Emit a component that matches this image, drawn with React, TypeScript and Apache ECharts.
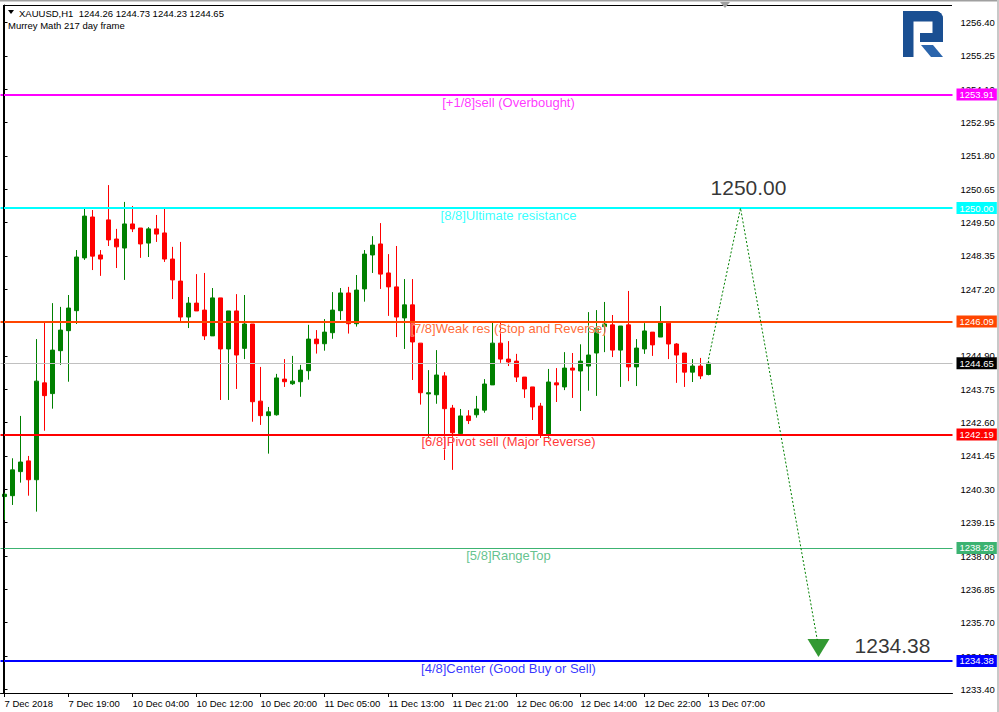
import React, { useEffect, useRef } from 'react';
import * as echarts from 'echarts';

const FONT = '"Liberation Sans", Arial, sans-serif';

// Bottom axis tick labels (one every 8 hourly candles)
const tickLabels = [
  '7 Dec 2018', '7 Dec 19:00', '10 Dec 04:00', '10 Dec 12:00', '10 Dec 20:00', '11 Dec 05:00',
  '11 Dec 13:00', '11 Dec 21:00', '12 Dec 06:00', '12 Dec 14:00', '12 Dec 22:00', '13 Dec 07:00',
];
const CATEGORY_COUNT = 119; // visible hourly slots incl. empty forecast area

// Hourly candles: [open, close, low, high]
const candles: number[][] = [
  [1240.05, 1240.13, 1239.24, 1240.18],
  [1240.08, 1240.97, 1239.76, 1241.37],
  [1240.91, 1241.24, 1240.53, 1242.83],
  [1241.28, 1240.63, 1240.08, 1241.45],
  [1240.63, 1244.03, 1239.53, 1245.48],
  [1243.97, 1243.53, 1242.32, 1246.04],
  [1243.60, 1245.10, 1243.08, 1246.72],
  [1245.08, 1245.79, 1244.59, 1246.59],
  [1245.77, 1246.55, 1244.01, 1247.00],
  [1246.46, 1248.31, 1246.00, 1248.55],
  [1248.28, 1249.72, 1248.21, 1249.97],
  [1249.69, 1248.34, 1247.86, 1249.93],
  [1248.38, 1248.24, 1247.66, 1248.55],
  [1249.59, 1248.90, 1248.69, 1250.79],
  [1248.93, 1248.66, 1247.93, 1249.28],
  [1248.62, 1249.45, 1247.52, 1250.21],
  [1249.45, 1249.28, 1249.17, 1250.07],
  [1249.31, 1248.76, 1248.28, 1249.31],
  [1248.79, 1249.28, 1248.31, 1249.34],
  [1249.28, 1249.10, 1248.83, 1249.76],
  [1249.14, 1248.24, 1248.14, 1249.97],
  [1248.24, 1247.52, 1246.86, 1248.66],
  [1247.48, 1246.24, 1246.10, 1248.83],
  [1246.24, 1246.72, 1245.86, 1246.93],
  [1246.72, 1246.45, 1246.45, 1247.72],
  [1246.48, 1245.59, 1245.45, 1247.76],
  [1245.59, 1246.90, 1245.59, 1247.24],
  [1246.90, 1245.14, 1243.38, 1246.90],
  [1245.14, 1246.45, 1243.38, 1246.45],
  [1246.45, 1244.93, 1243.76, 1247.03],
  [1245.16, 1246.00, 1244.79, 1247.00],
  [1246.00, 1243.32, 1242.63, 1246.00],
  [1243.34, 1242.84, 1242.52, 1244.52],
  [1242.84, 1242.97, 1241.53, 1243.14],
  [1242.87, 1244.14, 1242.84, 1244.28],
  [1244.10, 1244.01, 1243.83, 1244.79],
  [1243.94, 1244.03, 1243.90, 1244.90],
  [1244.01, 1244.41, 1243.49, 1244.59],
  [1244.39, 1245.48, 1244.08, 1245.97],
  [1245.48, 1245.32, 1244.98, 1245.79],
  [1245.32, 1245.72, 1245.08, 1246.17],
  [1245.70, 1246.48, 1245.49, 1247.10],
  [1246.46, 1247.07, 1246.14, 1247.24],
  [1247.07, 1246.01, 1245.67, 1247.28],
  [1246.01, 1247.17, 1245.91, 1247.69],
  [1247.21, 1248.41, 1246.77, 1248.55],
  [1248.38, 1248.72, 1247.76, 1249.03],
  [1248.76, 1247.72, 1247.21, 1249.48],
  [1247.76, 1247.28, 1246.28, 1248.41],
  [1247.28, 1246.24, 1245.55, 1248.69],
  [1246.21, 1246.66, 1245.14, 1247.55],
  [1246.66, 1245.38, 1244.07, 1247.55],
  [1245.34, 1243.63, 1243.22, 1245.34],
  [1243.59, 1243.63, 1242.08, 1244.41],
  [1243.56, 1244.24, 1243.25, 1245.10],
  [1244.21, 1243.08, 1241.31, 1244.34],
  [1243.10, 1242.25, 1240.97, 1243.21],
  [1242.22, 1242.83, 1242.17, 1243.07],
  [1242.83, 1242.67, 1242.55, 1243.03],
  [1242.87, 1243.07, 1242.77, 1243.52],
  [1243.03, 1243.93, 1242.94, 1244.10],
  [1243.90, 1245.34, 1243.90, 1246.07],
  [1245.34, 1244.79, 1244.66, 1246.07],
  [1244.79, 1244.69, 1244.55, 1245.41],
  [1244.72, 1244.17, 1244.00, 1244.97],
  [1244.17, 1243.76, 1243.45, 1244.17],
  [1243.83, 1243.14, 1242.69, 1243.83],
  [1243.17, 1242.21, 1242.07, 1243.28],
  [1242.21, 1244.00, 1242.03, 1244.45],
  [1243.97, 1243.90, 1243.31, 1244.48],
  [1243.83, 1244.48, 1243.72, 1245.03],
  [1244.48, 1244.41, 1243.45, 1245.00],
  [1244.38, 1244.72, 1243.00, 1245.30],
  [1244.55, 1244.93, 1243.70, 1246.41],
  [1245.00, 1245.86, 1243.52, 1246.48],
  [1245.91, 1246.00, 1245.03, 1246.76],
  [1245.97, 1245.10, 1244.86, 1246.31],
  [1245.10, 1245.93, 1243.83, 1245.93],
  [1245.97, 1244.52, 1244.03, 1247.14],
  [1244.52, 1245.17, 1243.86, 1245.48],
  [1245.14, 1245.76, 1244.97, 1246.03],
  [1245.72, 1245.28, 1244.90, 1245.72],
  [1245.55, 1246.07, 1245.55, 1246.62],
  [1246.03, 1245.31, 1244.79, 1246.03],
  [1245.31, 1244.93, 1243.97, 1245.34],
  [1245.00, 1244.34, 1243.83, 1245.00],
  [1244.34, 1244.55, 1244.00, 1244.79],
  [1244.55, 1244.21, 1244.10, 1244.83],
  [1244.26, 1244.65, 1244.23, 1244.73],
];

// Right price scale tick labels
const yTickValues = [
  1233.40, 1234.55, 1235.70, 1236.85, 1238.00, 1239.15, 1240.30, 1241.45, 1242.60, 1243.75, 1244.90,
  1246.05, 1247.20, 1248.35, 1249.50, 1250.65, 1251.80, 1252.95, 1254.10, 1255.25, 1256.40,
];

// Murrey Math levels
const levelValues = [1253.91, 1250.00, 1246.09, 1242.19, 1238.28, 1234.38];
const levelNames = [
  '[+1/8]sell (Overbought)',
  '[8/8]Ultimate resistance',
  '[7/8]Weak res (Stop and Reverse)',
  '[6/8]Pivot sell (Major Reverse)',
  '[5/8]RangeTop',
  '[4/8]Center (Good Buy or Sell)',
];
const levelColors = ['#ff00ff', '#00ffff', '#ff4500', '#ff0000', '#3cb371', '#0000ff'];
const levelWidths = [2, 2, 2, 2, 1, 2];
const levelLabelSlot = 63; // candle slot where level captions are centred

const currentPrice = 1244.65;
const headerOHLC = [1244.26, 1244.73, 1244.23, 1244.65];

// Forecast path: [slot, price]
const forecastPath = [[88, 1244.79], [92, 1250.0], [101.6, 1235.1]];
const forecastArrow = [101.75, 1234.83];
const forecastTexts = ['1250.00', '1234.38'];
const forecastTextPos = [[93, 1250.72], [111, 1234.9]];

const categories = Array.from({ length: CATEGORY_COUNT }, (_, i) =>
  i % 8 === 0 && i / 8 < tickLabels.length ? tickLabels[i / 8] : `h${i}`
);
const isTick = (i: number) => i % 8 === 0 && i / 8 < tickLabels.length;

export default function App() {
  const ref = useRef<HTMLDivElement>(null);
  useEffect(() => {
    if (!ref.current) return;
    const chart = echarts.init(ref.current, undefined, { renderer: 'svg' });
    const logoMain = '#1a4f92';
    const logoLeg = '#2b65ac';
    const option: any = {
      animation: false,
      backgroundColor: '#ffffff',
      grid: { left: 0.5, top: 5, width: 952, height: 688, show: false, outerBoundsMode: 'none' },
      xAxis: [
        {
          type: 'category',
          data: categories,
          boundaryGap: true,
          axisLine: { show: true, lineStyle: { color: '#000', width: 1 } },
          axisTick: { show: true, alignWithLabel: true, interval: (i: number) => isTick(i), length: 4, lineStyle: { color: '#000' } },
          axisLabel: {
            interval: (i: number) => isTick(i),
            align: 'left',
            margin: 5,
            color: '#000',
            fontSize: 9.5,
            fontFamily: FONT,
          },
          splitLine: { show: false },
        },
        { type: 'value', min: -0.5, max: CATEGORY_COUNT - 0.5, show: false },
      ],
      yAxis: {
        type: 'value',
        position: 'right',
        min: 1257.0 - 688 / 29,
        max: 1257.0,
        splitLine: { show: false },
        axisLine: { show: true, lineStyle: { color: '#000', width: 1 } },
        axisTick: { show: true, length: 3, customValues: yTickValues, lineStyle: { color: '#000' } },
        axisLabel: {
          customValues: yTickValues,
          formatter: (v: number) => v.toFixed(2),
          color: '#000',
          fontSize: 9.5,
          fontFamily: FONT,
          margin: 8,
        },
      },
      graphic: [
        { type: 'rect', z: 20, silent: true, shape: { x: 0, y: 0, width: 999, height: 1.5 }, style: { fill: '#a0a0a0' } },
        { type: 'rect', z: 20, silent: true, shape: { x: 997, y: 0, width: 2, height: 712 }, style: { fill: '#c8c8c8' } },
        { type: 'line', z: 20, silent: true, shape: { x1: 3.5, y1: 5, x2: 3.5, y2: 693 }, style: { stroke: '#000', lineWidth: 1 } },
        { type: 'line', z: 20, silent: true, shape: { x1: 3, y1: 5.5, x2: 952, y2: 5.5 }, style: { stroke: '#000', lineWidth: 1 } },
        { type: 'polygon', z: 20, silent: true, shape: { points: [[720, 2], [730, 2], [725, 8]] }, style: { fill: '#a0a0a0' } },
        { type: 'polygon', z: 20, silent: true, shape: { points: [[8, 10], [14, 10], [11, 14]] }, style: { fill: '#000' } },
        {
          type: 'text', z: 20, silent: true, x: 19, y: 13,
          style: {
            text: 'XAUUSD,H1  ' + headerOHLC.map((v) => v.toFixed(2)).join(' '),
            fontSize: 9.5, fontFamily: FONT, fill: '#000', verticalAlign: 'middle',
          },
        },
        {
          type: 'text', z: 20, silent: true, x: 8, y: 25,
          style: { text: 'Murrey Math 217 day frame', fontSize: 9.5, fontFamily: FONT, fill: '#000', verticalAlign: 'middle' },
        },
        // logo
        { type: 'rect', z: 20, silent: true, shape: { x: 903, y: 11, width: 10.5, height: 46 }, style: { fill: logoMain } },
        { type: 'rect', z: 20, silent: true, shape: { x: 903, y: 11, width: 40, height: 10.5, r: [0, 8, 0, 0] }, style: { fill: logoMain } },
        { type: 'rect', z: 20, silent: true, shape: { x: 932.5, y: 11, width: 10.5, height: 31, r: [0, 8, 0, 0] }, style: { fill: logoMain } },
        { type: 'rect', z: 20, silent: true, shape: { x: 920, y: 33, width: 23, height: 9 }, style: { fill: logoMain } },
        { type: 'polygon', z: 20, silent: true, shape: { points: [[921, 45], [933, 45], [943, 57], [931, 57]] }, style: { fill: logoLeg } },
      ],
      series: [
        {
          type: 'line',
          xAxisIndex: 1,
          data: [],
          z: 1,
          silent: true,
          markLine: {
            silent: true,
            symbol: ['none', 'none'],
            animation: false,
            lineStyle: { color: '#c0c0c0', width: 1, type: 'solid' },
            label: {
              show: true,
              position: 'end',
              distance: 4,
              formatter: () => currentPrice.toFixed(2),
              color: '#fff',
              backgroundColor: '#000',
              padding: [1, 3],
              fontSize: 9.5,
              fontFamily: FONT,
            },
            data: [{ yAxis: currentPrice }],
          },
        },
        {
          type: 'candlestick',
          data: candles,
          barWidth: 4,
          z: 2,
          silent: true,
          itemStyle: {
            color: '#008000',
            color0: '#ff0000',
            borderColor: '#008000',
            borderColor0: '#ff0000',
            borderColorDoji: '#008000',
            borderWidth: 1,
          },
        },
        {
          type: 'line',
          xAxisIndex: 1,
          data: [],
          z: 3,
          silent: true,
          markLine: {
            silent: true,
            symbol: ['none', 'none'],
            animation: false,
            data: levelValues.map((v, i) => ({
              yAxis: v,
              lineStyle: { color: levelColors[i], width: levelWidths[i], type: 'solid' },
              label: {
                show: true,
                position: 'end',
                distance: 4,
                formatter: () => v.toFixed(2),
                color: '#fff',
                backgroundColor: levelColors[i],
                padding: [1, 3],
                fontSize: 9.5,
                fontFamily: FONT,
              },
            })),
          },
        },
        {
          type: 'scatter',
          xAxisIndex: 1,
          z: 4,
          silent: true,
          symbolSize: 0.01,
          itemStyle: { color: 'rgba(0,0,0,0)' },
          label: {
            show: true,
            position: 'bottom',
            distance: 1,
            fontSize: 13,
            fontFamily: FONT,
            textBorderColor: 'rgba(255,255,255,0.8)',
            textBorderWidth: 1,
          },
          data: levelValues.map((v, i) => ({
            value: [levelLabelSlot, v],
            label: { formatter: levelNames[i], color: levelColors[i] },
          })),
        },
        {
          type: 'line',
          xAxisIndex: 1,
          z: 5,
          silent: true,
          symbol: 'none',
          data: forecastPath,
          lineStyle: { color: '#008000', width: 1, type: [2, 2] },
        },
        {
          type: 'scatter',
          xAxisIndex: 1,
          z: 5,
          silent: true,
          symbol: 'triangle',
          symbolRotate: 180,
          symbolSize: [22, 18],
          itemStyle: { color: '#008000' },
          data: [forecastArrow],
        },
        {
          type: 'scatter',
          xAxisIndex: 1,
          z: 5,
          silent: true,
          symbolSize: 0.01,
          itemStyle: { color: 'rgba(0,0,0,0)' },
          label: { show: true, position: 'inside', fontSize: 21, fontFamily: FONT, color: '#000' },
          data: forecastTexts.map((t, i) => ({ value: forecastTextPos[i], label: { formatter: t } })),
        },
      ],
    };
    chart.setOption(option);
    return () => chart.dispose();
  }, []);
  return (
    <div
      ref={ref}
      style={{ position: 'absolute', left: 0, top: 0, width: 999, height: 712, background: '#fff' }}
    />
  );
}
